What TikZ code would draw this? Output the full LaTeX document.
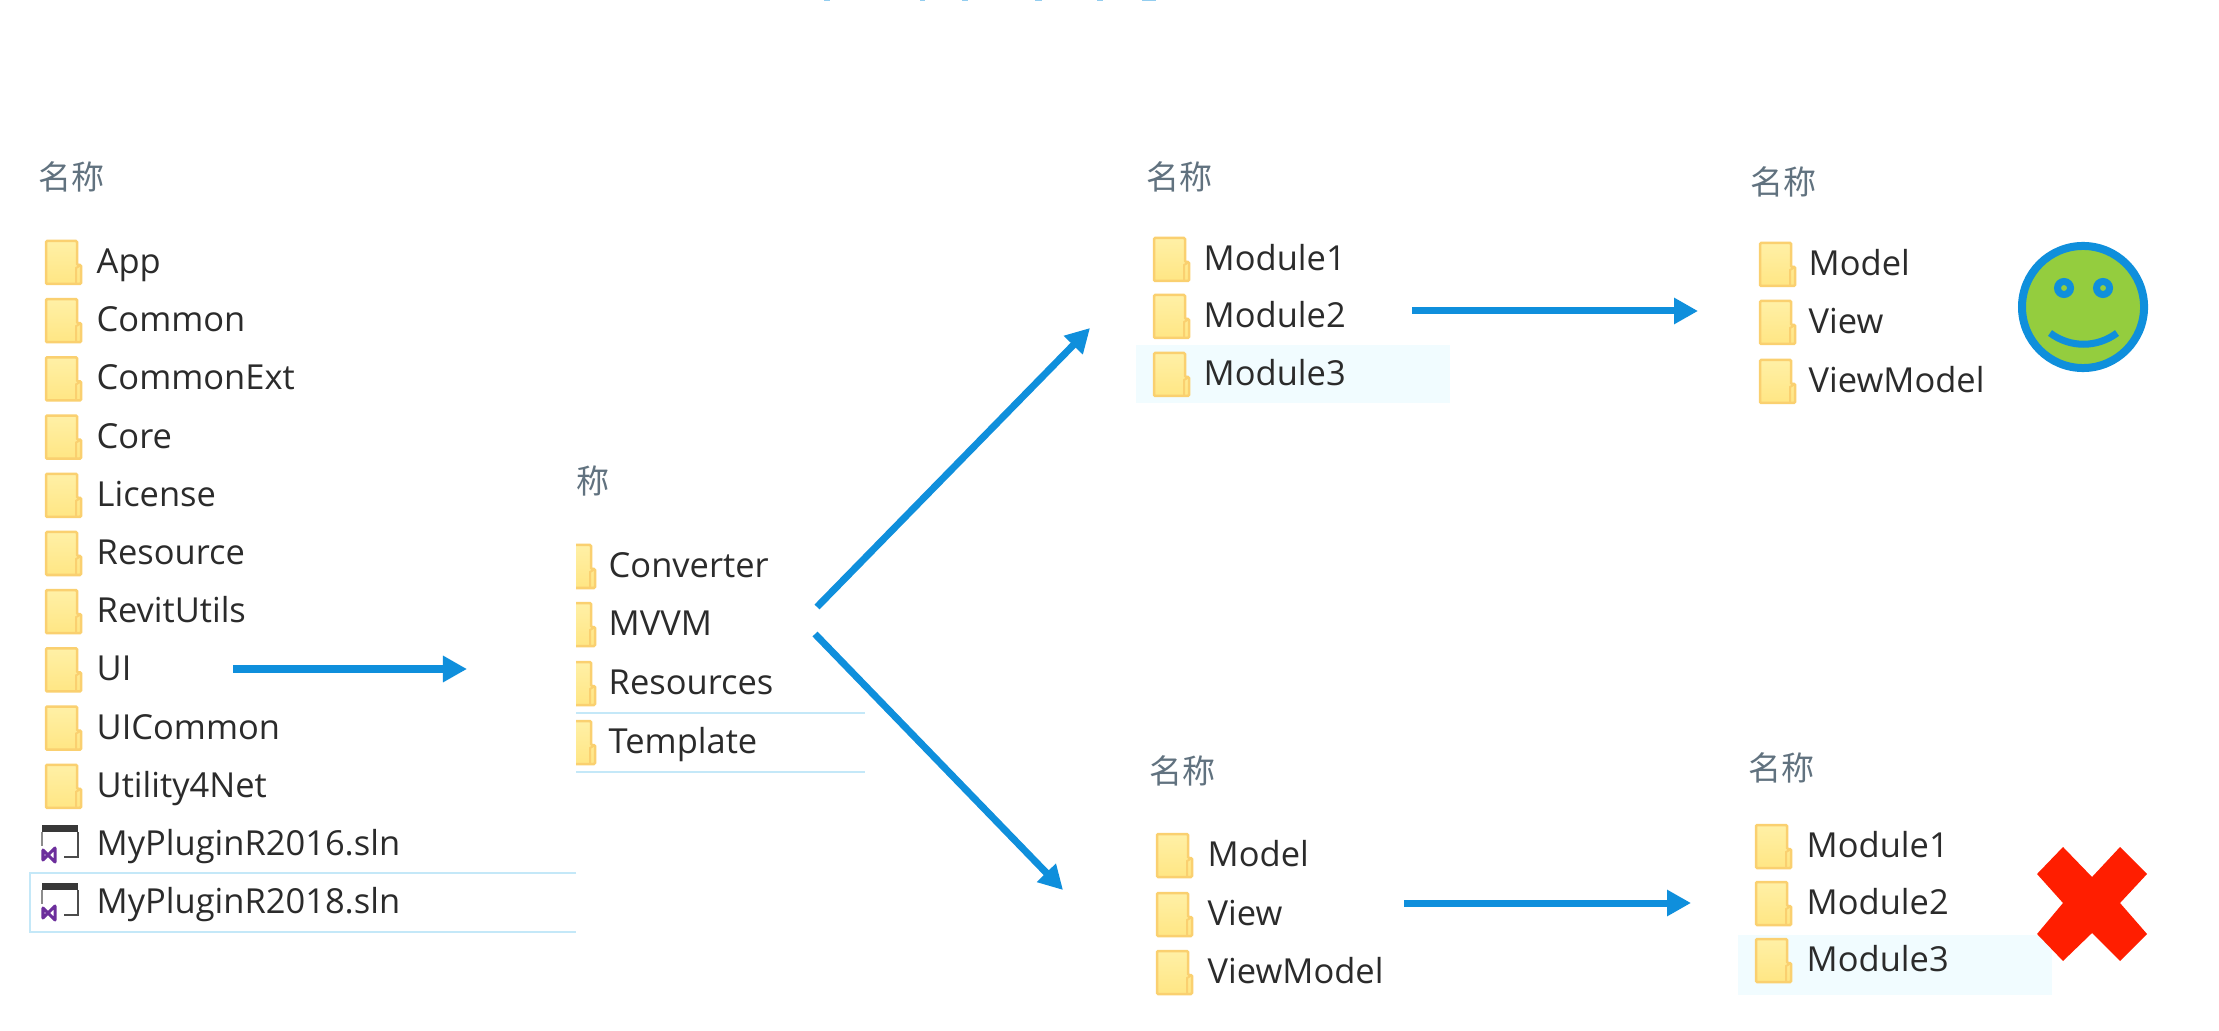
\documentclass[tikz,border=0pt]{standalone}
\usepackage{fontspec}
\setmainfont{Open Sans}
\newfontfamily\cjk{Noto Sans CJK SC}
\usepackage{xcolor}
\usepackage{tikz}
\usetikzlibrary{positioning,arrows.meta}
\definecolor{arrowblue}{HTML}{0F8FDC}
\definecolor{selline}{HTML}{C4E8F8}
\definecolor{selfill}{HTML}{F1FCFF}
\definecolor{folderedge}{HTML}{FAD070}
\definecolor{foldertop}{HTML}{FFF0A6}
\definecolor{folderlow}{HTML}{FFE684}
\definecolor{headgrey}{HTML}{61727F}
\definecolor{itemink}{HTML}{2B2B2B}
\definecolor{vspurple}{HTML}{6C2E9C}
\definecolor{smilegreen}{HTML}{94CD3E}
\definecolor{crossred}{HTML}{FF1E00}
\newcommand{\cname}{{\cjk 名称}}

\begin{document}
\begin{tikzpicture}[x=0.01cm,y=-0.01cm,
  item/.style={anchor=west,inner sep=0pt,yshift=-0.01cm,text=itemink,font=\fontsize{9.8pt}{12pt}\selectfont,text height=8pt,text depth=2pt},
  head/.style={anchor=west,inner sep=0pt,text=headgrey,font=\fontsize{9.4pt}{11pt}\selectfont},
  ar/.style={-{Triangle[length=0.24cm,width=0.25cm]},line width=0.07cm,arrowblue},
  selbar/.style={draw=none,fill=selfill},
  selline/.style={draw=selline,line width=0.02cm},
  folderico/.pic={
    \path[draw=folderedge,line width=0.025cm,top color=foldertop,bottom color=folderlow,rounded corners=0.3pt]
      (-17,-21) -- (14,-21) -- (14,3) -- (18,3) -- (18,22) -- (-17,22) -- cycle;
    \draw[folderedge,line width=0.02cm] (13,22) -- (13,6) -- (18,3);
  },
  slnico/.pic={
    \fill[black!78] (-18,-19) rectangle (18,-12);
    \draw[black!70,line width=0.02cm] (18,-12) -- (18,13) -- (4,13);
    \draw[black!45,line width=0.02cm] (-18,-12) -- (-18,2);
    \draw[vspurple,line width=0.03cm,line join=round]
      (-17,6) -- (-5,18) -- (-5,4) -- (-17,16) -- cycle;
  }]
\useasboundingbox (0,0) rectangle (2219,1031);
\fill[white] (0,0) rectangle (2219,1031);
% scraps of the cut-off title
\foreach \tx/\tw in {824/6,920/5,962/6,1035/7,1097/6,1142/14}
  \fill[arrowblue!45!white] (\tx,0) rectangle ++(\tw,1.5);

% left list
\node[head] (headA) at (38,177) {\cname};
\foreach \i/\lbl in {0/App,1/Common,2/CommonExt,3/Core,4/License,5/Resource,6/RevitUtils,7/UI,8/UICommon,9/Utility4Net}{
  \pic at (63,{262+58.2*\i}) {folderico};
  \node[item] (a\i) at (96,{262+58.2*\i}) {\lbl};
}
\pic at (60,844) {slnico};
\node[item] (sln16) at (96,844) {MyPluginR2016.sln};
\pic at (60,902) {slnico};
\node[item] (sln18) at (96,902) {MyPluginR2018.sln};
\draw[selline] (576,873) -- (30,873) -- (30,932) -- (576,932);

% second list, cut at its left edge
\begin{scope}
\clip (576,440) rectangle (880,800);
\node[head] (headB) at (543,481) {\cname};
\foreach \i/\lbl/\y in {0/Converter/566,1/MVVM/624,2/Resources/683,3/Template/742}{
  \pic at (577,\y) {folderico};
  \node[item] (b\i) at (608,\y) {\lbl};
}
\draw[selline] (576,713) -- (865,713);
\draw[selline] (576,772) -- (865,772);
\end{scope}

% modules, top
\fill[selbar] (1136,345) rectangle (1450,403);
\node[head] (headC) at (1146,177) {\cname};
\foreach \i/\lbl/\y in {1/Module1/259,2/Module2/316,3/Module3/374}{
  \pic at (1171,\y) {folderico};
  \node[item] (c\i) at (1203,\y) {\lbl};
}

% mvvm, top
\node[head] (headD) at (1750,182) {\cname};
\foreach \i/\lbl/\y in {1/Model/264,2/View/322,3/ViewModel/381}{
  \pic at (1777,\y) {folderico};
  \node[item] (d\i) at (1808,\y) {\lbl};
}

% mvvm, bottom
\node[head] (headE) at (1149,771) {\cname};
\foreach \i/\lbl/\y in {1/Model/855,2/View/914,3/ViewModel/972}{
  \pic at (1174,\y) {folderico};
  \node[item] (e\i) at (1207,\y) {\lbl};
}

% modules, bottom
\fill[selbar] (1738,935) rectangle (2052,995);
\node[head] (headF) at (1748,768) {\cname};
\foreach \i/\lbl/\y in {1/Module1/846,2/Module2/903,3/Module3/960}{
  \pic at (1773,\y) {folderico};
  \node[item] (f\i) at (1806,\y) {\lbl};
}

% smiley
\node[circle,draw=arrowblue,line width=0.08cm,fill=smilegreen,minimum size=1.22cm,inner sep=0pt] (smile) at (2083,307) {};
\foreach \ex in {2064,2103}
  \draw[arrowblue,line width=0.07cm,fill=smilegreen] (\ex,288) circle (0.065cm);
\draw[arrowblue,line width=0.07cm] (2050,333) .. controls (2070,348) and (2097,348) .. (2117,333);

% cross
\fill[crossred] (2063,847) -- (2092,877) -- (2120,847) -- (2147,874) -- (2120,903) -- (2147,934)
  -- (2120,961) -- (2092,933) -- (2063,961) -- (2037,934) -- (2063,903) -- (2037,874) -- cycle;

% arrows
\coordinate (uiout) at (233,669);
\coordinate (uiin) at (467,669);
\coordinate (mvvmup) at (817,607);
\coordinate (modin) at (1090,328);
\coordinate (mvvmdn) at (815,634);
\coordinate (mvin) at (1063,890);
\coordinate (modout) at (1412,311);
\coordinate (goodin) at (1698,311);
\coordinate (mvout) at (1404,903);
\coordinate (badin) at (1691,903);
\draw[ar] (uiout) -- (uiin);
\draw[ar] (mvvmup) -- (modin);
\draw[ar] (mvvmdn) -- (mvin);
\draw[ar] (modout) -- (goodin);
\draw[ar] (mvout) -- (badin);
\end{tikzpicture}
\end{document}
